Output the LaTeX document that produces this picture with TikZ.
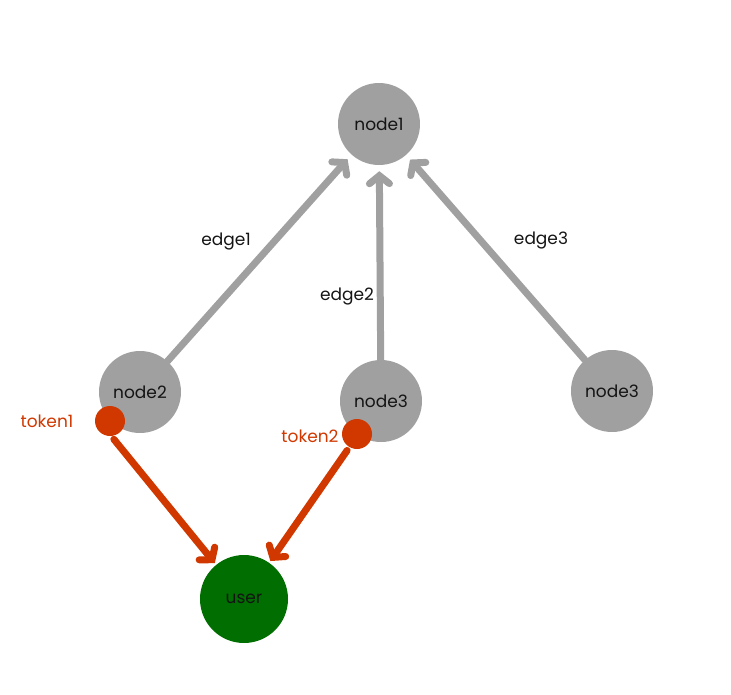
\documentclass[tikz,border=0pt]{standalone}
\usepackage{fontspec}
\setmainfont{Poppins}
\usetikzlibrary{arrows.meta}
\definecolor{mygray}{RGB}{160,160,160}
\definecolor{myred}{RGB}{208,56,0}
\definecolor{mygreen}{RGB}{0,110,0}
\definecolor{mytext}{RGB}{20,20,20}

\begin{document}
\begin{tikzpicture}[x=1pt,y=-1pt,
  peer/.style={circle, fill=mygray, minimum size=82pt, inner sep=0pt, text=mytext, font=\fontsize{17}{17}\selectfont},
  client/.style={circle, fill=mygreen, minimum size=88pt, inner sep=0pt, text=mytext, font=\fontsize{17}{17}\selectfont},
  tok/.style={circle, fill=myred, minimum size=30pt, inner sep=0pt},
  lbl/.style={text=mytext, font=\fontsize{17}{17}\selectfont},
  toklbl/.style={text=myred, font=\fontsize{17}{17}\selectfont},
  link/.style={line width=7pt, mygray, -{Straight Barb[length=8pt,width=20pt,line cap=round]}, line cap=round, shorten >=6pt},
  grant/.style={line width=7pt, myred, -{Straight Barb[length=8pt,width=20pt,line cap=round]}, line cap=round, shorten <=4pt, shorten >=2pt}]
  \useasboundingbox (0,0) rectangle (731,694);

  % Peers
  \node[peer] (node1) at (379,124) {node1};
  \node[peer] (node2) at (140,392) {node2};
  \node[peer] (node3) at (381,401) {node3};
  \node[peer] (node4) at (612,391) {node3};

  % User
  \node[client] (user) at (244,599) {user};

  % Tokens
  \node[tok] (token1) at (110,421) {};
  \node[tok] (token2) at (357,434) {};
  \node[toklbl] (token1lbl) at (47,421) {token1};
  \node[toklbl] (token2lbl) at (310,436) {token2};

  % Edges
  \draw[link] (node2) -- (node1);
  \draw[link] (node3) -- (node1);
  \draw[link] (node4) -- (node1);
  \node[lbl] (edge1) at (226,241) {edge1};
  \node[lbl] (edge2) at (347,296) {edge2};
  \node[lbl] (edge3) at (541,240) {edge3};

  % Token flow
  \draw[grant] (token1.-85) -- (user);
  \draw[grant] (token2.-120) -- (user);
\end{tikzpicture}
\end{document}
